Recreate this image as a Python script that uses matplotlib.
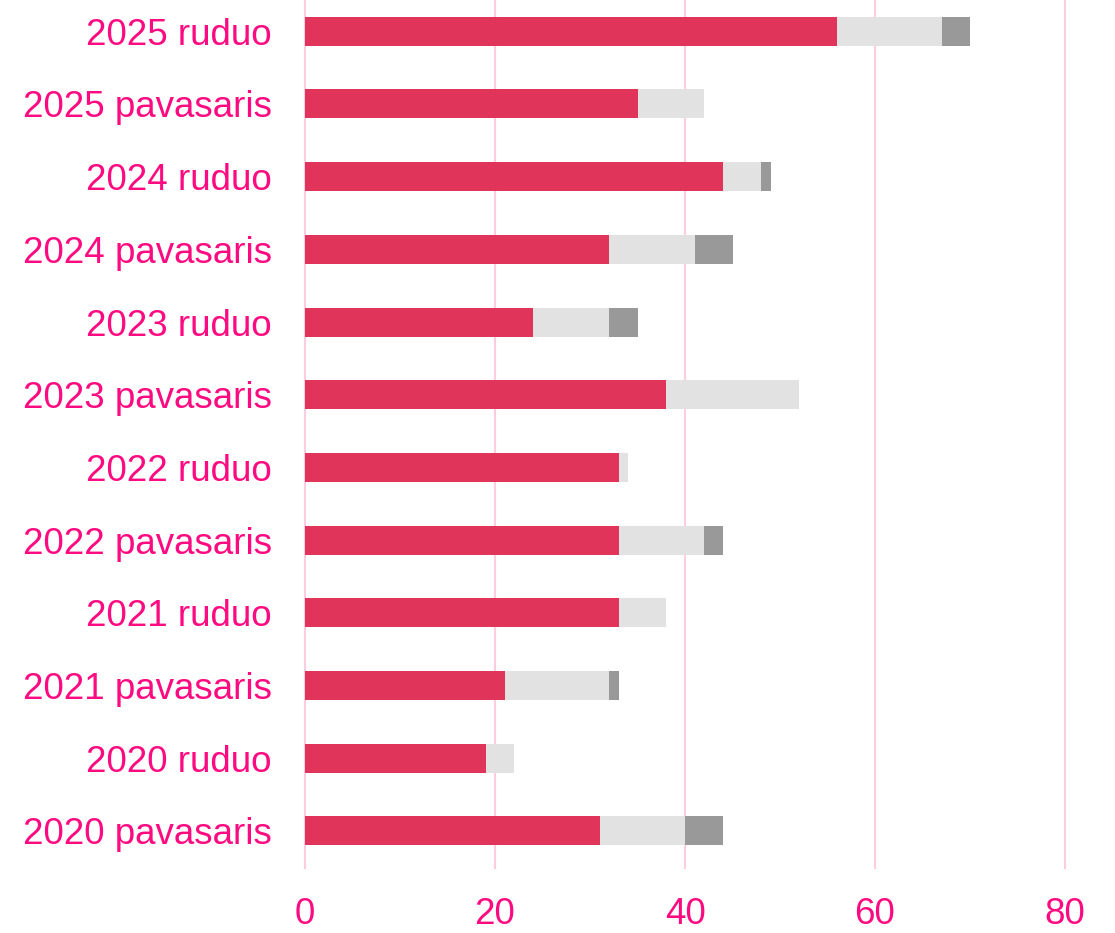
import matplotlib.pyplot as plt

# data, bottom to top
labels = ['2020 pavasaris', '2020 ruduo', '2021 pavasaris', '2021 ruduo',
          '2022 pavasaris', '2022 ruduo', '2023 pavasaris', '2023 ruduo',
          '2024 pavasaris', '2024 ruduo', '2025 pavasaris', '2025 ruduo']
red_part = [31, 19, 21, 33, 33, 33, 38, 24, 32, 44, 35, 56]
light_part = [9, 3, 11, 5, 9, 1, 14, 8, 9, 4, 7, 11]
dark_part = [4, 0, 1, 0, 2, 0, 0, 3, 4, 1, 0, 3]

pink = '#ff0a80'
plt.rcParams['font.family'] = ['Liberation Sans', 'DejaVu Sans']

fig = plt.figure(figsize=(11.15, 9.33), dpi=100)
ax = fig.add_axes([305 / 1115, 65 / 933, 760 / 1115, 868 / 933])

y = list(range(len(labels)))
left2 = [a + b for a, b in zip(red_part, light_part)]
ax.barh(y, red_part, height=0.4, color='#e0345a', zorder=3)
ax.barh(y, light_part, left=red_part, height=0.4, color='#e2e2e2', zorder=3)
ax.barh(y, dark_part, left=left2, height=0.4, color='#999999', zorder=3)

ax.set_xlim(0, 80)
ax.set_ylim(-0.51, 11.43)
ax.set_xticks([0, 20, 40, 60, 80])
ax.set_yticks(y)
ax.set_yticklabels(labels)
ax.grid(axis='x', color='#ffcce0', linewidth=1.5, zorder=0)
ax.grid(axis='y', visible=False)
for s in ax.spines.values():
    s.set_visible(False)
ax.tick_params(axis='y', length=0, pad=24, labelsize=26.5, labelcolor=pink)
ax.tick_params(axis='x', length=0, pad=21, labelsize=26.5, labelcolor=pink)
for line in ax.get_xgridlines():
    line.set_clip_on(False)

fig.savefig('out.png', dpi=100)
